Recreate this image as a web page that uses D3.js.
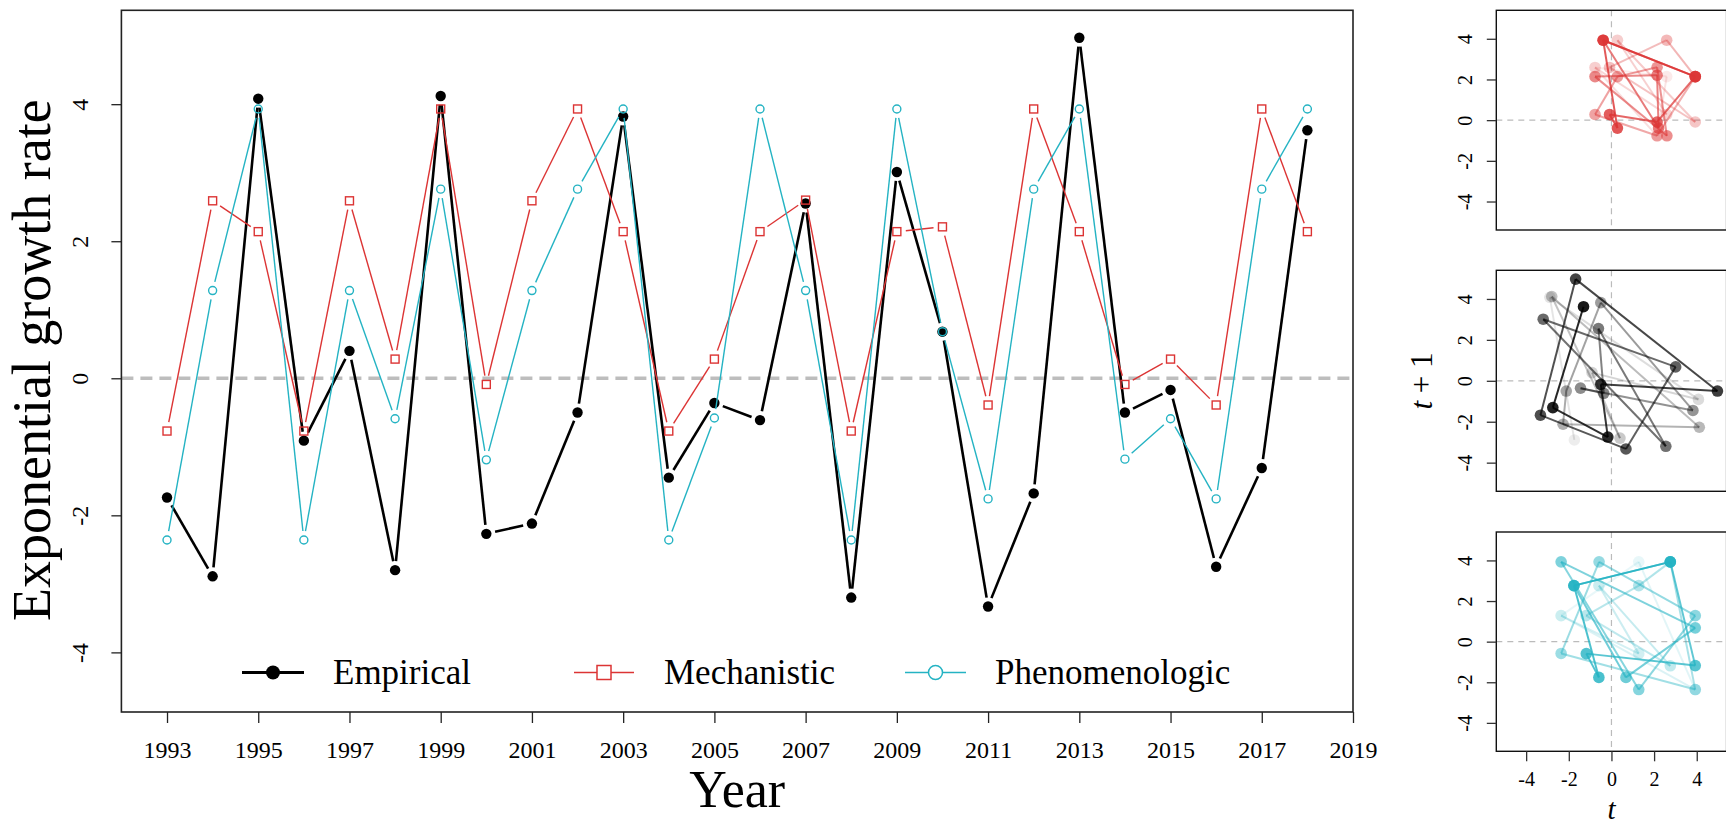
<!DOCTYPE html>
<html>
<head>
<meta charset="utf-8">
<script src="https://cdn.jsdelivr.net/npm/d3@7"></script>
<style>
  body { margin: 0; background: #fff; }
  text { font-family: "Liberation Serif", "DejaVu Serif", serif; fill: #000; }
</style>
</head>
<body>
<svg id="chart" width="1726" height="828"></svg>
<script>
// values
const years = [1993, 1994, 1995, 1996, 1997, 1998, 1999, 2000, 2001, 2002, 2003, 2004, 2005,
  2006, 2007, 2008, 2009, 2010, 2011, 2012, 2013, 2014, 2015, 2016, 2017, 2018]
const empirical = [-1.74, -2.89, 4.08, -0.91, 0.40, -2.80, 4.12, -2.27, -2.12, -0.50, 3.82, -1.45, -0.36,
  -0.61, 2.55, -3.20, 3.01, 0.68, -3.33, -1.68, 4.97, -0.50, -0.17, -2.75, -1.31, 3.62]
const mechanistic = [-0.77, 2.59, 2.14, -0.77, 2.59, 0.28, 3.93, -0.09, 2.59, 3.93, 2.14, -0.77, 0.28,
  2.14, 2.60, -0.77, 2.14, 2.21, -0.39, 3.93, 2.14, -0.09, 0.28, -0.39, 3.93, 2.14]
const phenomenologic = [-2.36, 1.28, 3.93, -2.36, 1.28, -0.59, 2.76, -1.19, 1.28, 2.76, 3.93, -2.36, -0.58,
  3.93, 1.28, -2.36, 3.93, 0.68, -1.76, 2.76, 3.93, -1.18, -0.59, -1.76, 2.76, 3.93]
const yearTicks = [1993, 1995, 1997, 1999, 2001, 2003, 2005, 2007, 2009, 2011, 2013, 2015, 2017, 2019]
const rateTicks = [-4, -2, 0, 2, 4]
const seriesNames = ['Empirical', 'Mechanistic', 'Phenomenologic']

const RED = '#dc3434'
const CYAN = '#24b3c3'
const SERIF = '"Liberation Serif", "DejaVu Serif", serif'

const svg = d3.select('#chart')
svg.append('rect').attr('width', 1726).attr('height', 828).attr('fill', '#fff')

// main panel
let x = d3.scaleLinear().domain([1992, 2019]).range([121.4, 1353])
let y = d3.scaleLinear().domain([-4.87, 5.37]).range([712, 10.3])

// zero line
svg.append('line')
  .attr('x1', x(1992)).attr('x2', x(2019))
  .attr('y1', y(0)).attr('y2', y(0))
  .attr('stroke', '#bdbdbd').attr('stroke-width', 3.5)
  .attr('stroke-dasharray', '12,7')

// type="b" style: segments stop short of the points
function gapSegments(pts, gap) {
  let segs = []
  for (let i = 0; i < pts.length - 1; i++) {
    let [x1, y1] = pts[i], [x2, y2] = pts[i + 1]
    let len = Math.hypot(x2 - x1, y2 - y1)
    if (len <= 2 * gap) continue
    let ux = (x2 - x1) / len, uy = (y2 - y1) / len
    segs.push([x1 + ux * gap, y1 + uy * gap, x2 - ux * gap, y2 - uy * gap])
  }
  return segs
}

function drawSeries(values, color, width, gap) {
  let pts = values.map((v, i) => [x(years[i]), y(v)])
  svg.append('g').selectAll('line')
    .data(gapSegments(pts, gap))
    .enter()
    .append('line')
    .attr('x1', d => d[0]).attr('y1', d => d[1])
    .attr('x2', d => d[2]).attr('y2', d => d[3])
    .attr('stroke', color).attr('stroke-width', width)
  return pts
}

let blackPts = drawSeries(empirical, '#000', 2.6, 9)
svg.append('g').selectAll('circle')
  .data(blackPts)
  .enter()
  .append('circle')
  .attr('cx', d => d[0]).attr('cy', d => d[1])
  .attr('r', 5.2).attr('fill', '#000')

let redPts = drawSeries(mechanistic, RED, 1.4, 9)
svg.append('g').selectAll('rect')
  .data(redPts)
  .enter()
  .append('rect')
  .attr('x', d => d[0] - 4).attr('y', d => d[1] - 4)
  .attr('width', 8).attr('height', 8)
  .attr('fill', 'none').attr('stroke', RED).attr('stroke-width', 1.4)

let cyanPts = drawSeries(phenomenologic, CYAN, 1.4, 9)
svg.append('g').selectAll('circle')
  .data(cyanPts)
  .enter()
  .append('circle')
  .attr('cx', d => d[0]).attr('cy', d => d[1])
  .attr('r', 4).attr('fill', 'none').attr('stroke', CYAN).attr('stroke-width', 1.4)

// box + axes
svg.append('rect')
  .attr('x', x(1992)).attr('y', y(5.37))
  .attr('width', x(2019) - x(1992)).attr('height', y(-4.87) - y(5.37))
  .attr('fill', 'none').attr('stroke', '#222').attr('stroke-width', 1.6)

// R style labels: plain hyphen minus, serif
let plain = d => String(d)

let xAxis = svg.append('g')
  .attr('transform', `translate(0,${y(-4.87)})`)
  .call(d3.axisBottom(x).tickValues(yearTicks).tickFormat(plain).tickSize(11))
  .attr('font-family', SERIF).attr('font-size', 24)
xAxis.select('.domain').remove()
xAxis.selectAll('line').attr('stroke', '#222').attr('stroke-width', 1.3)
xAxis.selectAll('text')
  .attr('y', 0).attr('dy', null)
  .attr('transform', 'translate(0,46)')
  .attr('fill', '#000')

let yAxis = svg.append('g')
  .attr('transform', `translate(${x(1992)},0)`)
  .call(d3.axisLeft(y).tickValues(rateTicks).tickFormat(plain).tickSize(10))
  .attr('font-family', SERIF).attr('font-size', 24)
yAxis.select('.domain').remove()
yAxis.selectAll('line').attr('stroke', '#222').attr('stroke-width', 1.3)
yAxis.selectAll('text')
  .attr('x', 0).attr('dy', null)
  .attr('text-anchor', 'middle')
  .attr('transform', 'translate(-33,0) rotate(-90)')
  .attr('fill', '#000')

svg.append('text')
  .attr('transform', `translate(50,${(y(5.37) + y(-4.87)) / 2 - 1}) rotate(-90)`)
  .attr('text-anchor', 'middle')
  .style('font-size', '54px')
  .text('Exponential growth rate')

svg.append('text')
  .attr('x', (x(1992) + x(2019)) / 2).attr('y', 807)
  .attr('text-anchor', 'middle')
  .style('font-size', '52px')
  .text('Year')

// legend
let legY = 672.5
let legend = [
  { name: seriesNames[0], x0: 242, x1: 304, tx: 333 },
  { name: seriesNames[1], x0: 574, x1: 634, tx: 664 },
  { name: seriesNames[2], x0: 905, x1: 966, tx: 995 }
]
legend.forEach((l, i) => {
  let col = [ '#000', RED, CYAN ][i]
  let cx = (l.x0 + l.x1) / 2
  svg.append('line')
    .attr('x1', l.x0).attr('x2', l.x1).attr('y1', legY).attr('y2', legY)
    .attr('stroke', col).attr('stroke-width', i == 0 ? 3 : 1.5)
  if (i == 0) {
    svg.append('circle').attr('cx', cx).attr('cy', legY).attr('r', 7).attr('fill', '#000')
  } else if (i == 1) {
    svg.append('rect').attr('x', cx - 7).attr('y', legY - 7).attr('width', 14).attr('height', 14)
      .attr('fill', '#fff').attr('stroke', col).attr('stroke-width', 1.5)
  } else {
    svg.append('circle').attr('cx', cx).attr('cy', legY).attr('r', 7)
      .attr('fill', '#fff').attr('stroke', col).attr('stroke-width', 1.5)
  }
  svg.append('text')
    .attr('x', l.tx).attr('y', legY + 11)
    .style('font-size', '35px')
    .text(l.name)
})

// phase panels: value at t against value at t+1
let px = d3.scaleLinear().domain([-5.4, 5.4]).range([1496.3, 1726.6])
let panels = [
  { values: mechanistic, color: RED, top: 10.3, bottom: 230 },
  { values: empirical, color: '#000', top: 270.3, bottom: 491.3 },
  { values: phenomenologic, color: CYAN, top: 532, bottom: 751.3 }
]

panels.forEach((p, k) => {
  let py = d3.scaleLinear().domain([-5.4, 5.4]).range([p.bottom, p.top])
  let g = svg.append('g')
  let pairs = p.values.slice(0, -1).map((v, i) => [v, p.values[i + 1]])
  let n = pairs.length
  let alpha = i => 0.08 + 0.92 * i / (n - 1)

  // dashed cross at zero
  g.append('line').attr('x1', px(0)).attr('x2', px(0)).attr('y1', p.top).attr('y2', p.bottom)
    .attr('stroke', '#bbb').attr('stroke-width', 1.2).attr('stroke-dasharray', '6,5')
  g.append('line').attr('x1', px(-5.4)).attr('x2', px(5.4)).attr('y1', py(0)).attr('y2', py(0))
    .attr('stroke', '#bbb').attr('stroke-width', 1.2).attr('stroke-dasharray', '6,5')

  let segs = pairs.slice(0, -1).map((d, i) => ({ a: d, b: pairs[i + 1], i: i + 1 }))
  g.selectAll('line.seg')
    .data(segs)
    .enter()
    .append('line')
    .attr('class', 'seg')
    .attr('x1', d => px(d.a[0])).attr('y1', d => py(d.a[1]))
    .attr('x2', d => px(d.b[0])).attr('y2', d => py(d.b[1]))
    .attr('stroke', p.color).attr('stroke-width', 2)
    .attr('stroke-opacity', d => alpha(d.i) * 0.85)

  g.selectAll('circle')
    .data(pairs)
    .enter()
    .append('circle')
    .attr('cx', d => px(d[0])).attr('cy', d => py(d[1]))
    .attr('r', 5.8)
    .attr('fill', p.color)
    .attr('fill-opacity', (d, i) => alpha(i) * 0.9)

  g.append('rect')
    .attr('x', px(-5.4)).attr('y', p.top)
    .attr('width', px(5.4) - px(-5.4)).attr('height', p.bottom - p.top)
    .attr('fill', 'none').attr('stroke', '#111').attr('stroke-width', 1.4)

  let ya = g.append('g')
    .attr('transform', `translate(${px(-5.4)},0)`)
    .call(d3.axisLeft(py).tickValues(rateTicks).tickFormat(plain).tickSize(9.5))
    .attr('font-family', SERIF).attr('font-size', 20)
  ya.select('.domain').remove()
  ya.selectAll('line').attr('stroke', '#333').attr('stroke-width', 1.3)
  ya.selectAll('text')
    .attr('x', 0).attr('dy', null)
    .attr('text-anchor', 'middle')
    .attr('transform', 'translate(-24,0) rotate(-90)')
    .attr('fill', '#000')

  if (k == 2) {
    let xa = g.append('g')
      .attr('transform', `translate(0,${p.bottom})`)
      .call(d3.axisBottom(px).tickValues(rateTicks).tickFormat(plain).tickSize(10))
      .attr('font-family', SERIF).attr('font-size', 20)
    xa.select('.domain').remove()
    xa.selectAll('line').attr('stroke', '#333').attr('stroke-width', 1.3)
    xa.selectAll('text')
      .attr('y', 0).attr('dy', null)
      .attr('transform', 'translate(0,35)')
      .attr('fill', '#000')
  }
})

svg.append('text')
  .attr('x', px(0)).attr('y', 819)
  .attr('text-anchor', 'middle')
  .style('font-size', '29px').style('font-style', 'italic')
  .text('t')

let tl = svg.append('text')
  .attr('transform', 'translate(1432,381) rotate(-90)')
  .attr('text-anchor', 'middle')
  .style('font-size', '31px')
tl.append('tspan').style('font-style', 'italic').text('t')
tl.append('tspan').text(' + 1')
</script>
</body>
</html>
